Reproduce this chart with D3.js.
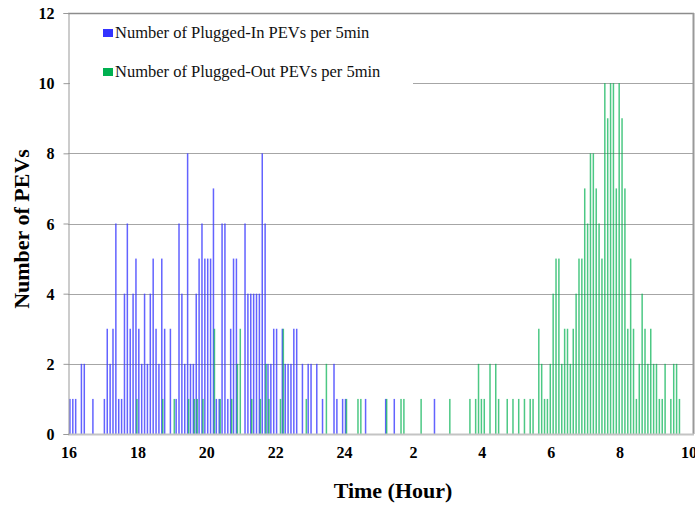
<!DOCTYPE html>
<html>
<head>
<meta charset="utf-8">
<script src="https://cdn.jsdelivr.net/npm/d3@7"></script>
<style>
  body { margin: 0; background: #fff; }
  svg { display: block; font-family: "Liberation Serif", "Times New Roman", serif; }
  svg .tick text { font-family: "Liberation Serif", "Times New Roman", serif; font-weight: bold; font-size: 16px; fill: #000; }
</style>
</head>
<body>
<script>
// 5-minute bins starting at 16:00, one row per hour (12 bins)
var plugInCounts = [
  1,1,1,0,2,2,0,0,1,0,0,0,   // 16
  1,3,2,3,6,1,1,4,6,3,4,5,   // 17
  3,2,4,2,4,5,3,2,5,3,0,3,   // 18
  0,1,6,4,2,8,2,2,4,5,6,5,   // 19
  5,5,7,1,1,6,6,1,3,5,5,0,   // 20
  0,6,4,4,4,4,4,8,6,2,2,3,   // 21
  3,0,3,2,2,2,3,3,0,2,0,2,   // 22
  2,0,2,0,1,0,0,0,2,1,0,1,   // 23
  1,0,0,0,0,0,0,1,0,0,0,0,   // 0
  0,0,1,0,0,1,0,0,0,0,0,0,   // 1
  0,0,0,0,0,0,0,1,0,0,0,0,   // 2
  0,0,0,0,0,0,0,0,0,0,0,0,   // 3
  0,0,0,0,0,0,0,0,0,0,0,0,   // 4
  0,0,0,0,0,0,0,0,0,0,0,0,   // 5
  0,0,0,0,0,0,0,0,0,0,0,0,   // 6
  0,0,0,0,0,0,0,0,0,0,0,0,   // 7
  0,0,0,0,0,0,0,0,0,0,0,0,   // 8
  0,0,0,0,0,0,0,0,0,0,0,0    // 9
];

var plugOutCounts = [
  0,0,0,0,0,0,0,0,0,0,0,0,   // 16
  0,0,0,0,0,0,0,0,0,0,0,1,   // 17
  0,0,0,0,0,0,0,0,1,0,0,0,   // 18
  1,0,0,0,0,1,0,1,1,0,1,0,   // 19
  0,0,3,0,1,0,0,0,1,0,2,3,   // 20
  0,0,0,1,0,0,1,0,2,1,0,0,   // 21
  0,1,3,0,0,0,0,0,0,0,1,0,   // 22
  0,0,0,0,0,2,0,0,0,0,0,0,   // 23
  1,0,0,0,1,1,0,0,0,0,0,0,   // 0
  0,0,1,0,0,0,0,1,1,0,0,0,   // 1
  0,0,1,0,0,0,0,0,0,0,0,0,   // 2
  1,0,0,0,0,0,0,1,0,1,2,1,   // 3
  1,0,2,0,2,1,0,0,1,0,1,0,   // 4
  1,0,1,0,1,1,0,3,2,1,1,2,   // 5
  4,5,5,2,3,3,2,3,4,5,5,7,   // 6
  6,8,8,7,6,5,10,9,10,10,7,10, // 7
  9,7,3,5,3,1,2,4,3,2,3,2,   // 8
  2,1,1,2,0,1,2,2,1,0,0,0    // 9
];

var xTickHours = [16, 18, 20, 22, 24, 26, 28, 30, 32, 34];
var xTickLabels = ["16", "18", "20", "22", "24", "2", "4", "6", "8", "10"];
var yTicks = [0, 2, 4, 6, 8, 10, 12];
var seriesNames = ["Number of Plugged-In PEVs per 5min", "Number of Plugged-Out PEVs per 5min"];

window.onload = function(){
    drawChart();
};

function drawChart(){
    var svg = d3.select("body").append("svg").attr("width", 695).attr("height", 507);

    var left = 68.5, right = 688.5, plotRight = 694, top = 13, bottom = 434;

    var xScale = d3.scaleLinear().domain([16, 34]).range([left, right]);
    var yScale = d3.scaleLinear().domain([0, 12]).range([bottom, top]);

    // gridlines
    svg.append("g")
        .selectAll("line")
        .data(yTicks.filter(function(d){ return d > 0; }))
        .enter()
        .append("line")
        .attr("x1", 68).attr("x2", plotRight)
        .attr("y1", function(d){ return Math.round(yScale(d)) + 0.5; })
        .attr("y2", function(d){ return Math.round(yScale(d)) + 0.5; })
        .attr("stroke", function(d){ return d == 12 ? "#8c8c8c" : "#a6a6a6"; })
        .attr("stroke-width", function(d){ return d == 12 ? 1.5 : 1; });

    // right border
    svg.append("line")
        .attr("x1", plotRight - 0.5).attr("x2", plotRight - 0.5)
        .attr("y1", top).attr("y2", bottom)
        .attr("stroke", "#999").attr("stroke-width", 2);

    // bin centre in hours
    function binHour(i){ return 16 + (i + 0.5) / 12; }

    var barW = 1.5;
    var inData = plugInCounts.map(function(v, i){ return {i: i, v: v}; }).filter(function(d){ return d.v > 0; });
    var outData = plugOutCounts.map(function(v, i){ return {i: i, v: v}; }).filter(function(d){ return d.v > 0; });

    svg.append("g")
        .selectAll("rect")
        .data(inData)
        .enter()
        .append("rect")
        .attr("x", function(d){ return xScale(binHour(d.i)) - barW / 2; })
        .attr("y", function(d){ return yScale(d.v); })
        .attr("width", barW)
        .attr("height", function(d){ return bottom - yScale(d.v); })
        .attr("fill", "#3c3cff")
        .attr("opacity", 0.8);

    svg.append("g")
        .selectAll("rect")
        .data(outData)
        .enter()
        .append("rect")
        .attr("x", function(d){ return xScale(binHour(d.i)) - barW / 2 + 1; })
        .attr("y", function(d){ return yScale(d.v); })
        .attr("width", barW)
        .attr("height", function(d){ return bottom - yScale(d.v); })
        .attr("fill", "#00b050")
        .attr("opacity", 0.7);

    // x axis line
    svg.append("line")
        .attr("x1", 68).attr("x2", plotRight)
        .attr("y1", bottom + 0.5).attr("y2", bottom + 0.5)
        .attr("stroke", "#c4c4c4").attr("stroke-width", 2);

    // x axis labels
    var xAxis = svg.append("g")
        .attr("transform", "translate(0," + bottom + ")")
        .call(d3.axisBottom(xScale)
            .tickValues(xTickHours)
            .tickSize(0)
            .tickPadding(13)
            .tickFormat(function(d, i){ return xTickLabels[i]; }));
    xAxis.select(".domain").remove();

    // y axis
    var yAxis = svg.append("g")
        .attr("transform", "translate(68.5,0)")
        .call(d3.axisLeft(yScale)
            .tickValues(yTicks)
            .tickSize(5)
            .tickPadding(9));
    yAxis.select(".domain").attr("stroke", "#999");
    yAxis.selectAll(".tick line").attr("stroke", "#999");
    yAxis.selectAll(".tick text").attr("dy", "0.35em");

    // legend (white box hides the gridline behind it)
    var legend = svg.append("g");
    legend.append("rect")
        .attr("x", 70).attr("y", 16)
        .attr("width", 343).attr("height", 72)
        .attr("fill", "#fff");
    var colours = ["#3333ff", "#00b050"];
    var legendY = [29, 68];
    seriesNames.forEach(function(name, i){
        legend.append("rect")
            .attr("x", 103).attr("y", legendY[i])
            .attr("width", 10).attr("height", 8)
            .attr("fill", colours[i]);
        legend.append("text")
            .attr("x", 115).attr("y", legendY[i] + 9)
            .style("font-size", "16.5px")
            .attr("fill", "#111")
            .text(name);
    });

    // axis titles
    svg.append("text")
        .attr("x", 393).attr("y", 498)
        .style("text-anchor", "middle")
        .style("font-weight", "bold")
        .style("font-size", "22px")
        .text("Time (Hour)");

    svg.append("text")
        .attr("transform", "translate(29,229) rotate(-90)")
        .style("text-anchor", "middle")
        .style("font-weight", "bold")
        .style("font-size", "22px")
        .text("Number of PEVs");
}
</script>
</body>
</html>
